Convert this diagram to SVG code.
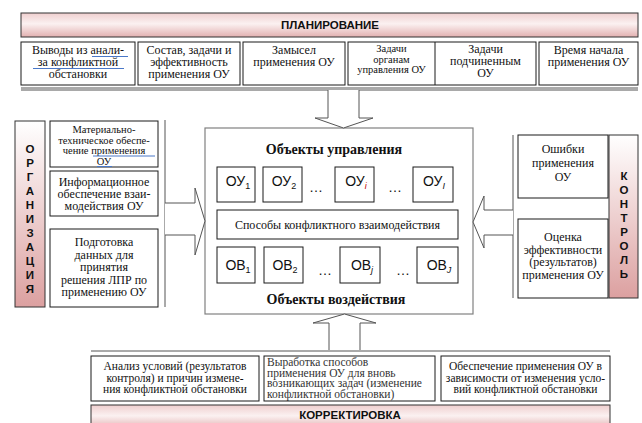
<svg xmlns="http://www.w3.org/2000/svg" width="642" height="423" viewBox="0 0 642 423">
<defs>
<linearGradient id="gh" x1="0" y1="0" x2="0" y2="1">
<stop offset="0" stop-color="#efcfcf"/>
<stop offset="0.45" stop-color="#fbf1f1"/>
<stop offset="1" stop-color="#e2b0b0"/>
</linearGradient>
<linearGradient id="gv" x1="0" y1="0" x2="0" y2="1">
<stop offset="0" stop-color="#ffffff"/>
<stop offset="1" stop-color="#dca0a0"/>
</linearGradient>
</defs>
<style>
.bx{fill:#fff;stroke:#1a1a1a;stroke-width:1}
.mb{fill:#fff;stroke:#808080;stroke-width:1.2}
.hd{stroke:#333;stroke-width:1}
.t{font-family:"Liberation Serif",serif;font-size:12px;fill:#111;text-anchor:middle}
.ls{font-family:"Liberation Serif",serif;font-size:11.5px;fill:#333;text-anchor:start}
.k{font-size:11.5px}
.s{font-size:10.5px}
.bt{font-family:"Liberation Serif",serif;font-size:14px;font-weight:bold;fill:#111;text-anchor:middle}
.h{font-family:"Liberation Sans",sans-serif;font-size:11.5px;font-weight:bold;fill:#111;text-anchor:middle}
.o{font-family:"Liberation Sans",sans-serif;font-size:14px;fill:#111;text-anchor:middle}
.sub{font-size:9px}
.ar{fill:#fff;stroke:#555;stroke-width:1}
.ln{fill:none;stroke:#555;stroke-width:1}
.ul{stroke:#4a78c8;stroke-width:1}
</style>

<g id="planirovanie">
<rect x="21" y="13" width="617" height="24" fill="url(#gh)" class="hd"/>
<text class="h" x="330" y="29">ПЛАНИРОВАНИЕ</text>
</g>

<g id="plan-vyvody">
<rect class="bx" x="21" y="42" width="114" height="43"/>
<text class="t" x="78"><tspan x="78" y="54">Выводы из анали-</tspan><tspan x="78" y="66">за  конфликтной</tspan><tspan x="78" y="78">обстановки</tspan></text>
<line class="ul" x1="92" y1="56.5" x2="128" y2="56.5"/>
<line class="ul" x1="33" y1="68.5" x2="124" y2="68.5"/>
</g>
<g id="plan-sostav">
<rect class="bx" x="138" y="42" width="102" height="43"/>
<text class="t" x="189"><tspan x="189" y="54">Состав, задачи и</tspan><tspan x="189" y="66">эффективность</tspan><tspan x="189" y="78">применения ОУ</tspan></text>
</g>
<g id="plan-zamysel">
<rect class="bx" x="243" y="42" width="102" height="43"/>
<text class="t" x="294"><tspan x="294" y="54">Замысел</tspan><tspan x="294" y="66">применения ОУ</tspan></text>
</g>
<g id="plan-zadachi">
<rect class="bx" x="348" y="42" width="188" height="43"/>
<line x1="435" y1="42" x2="435" y2="85" stroke="#1a1a1a"/>
<text class="t s" x="391.5"><tspan x="391.5" y="52">Задачи</tspan><tspan x="391.5" y="62.5">органам</tspan><tspan x="391.5" y="73">управления ОУ</tspan></text>
<text class="t" x="485.5"><tspan x="485.5" y="53">Задачи</tspan><tspan x="485.5" y="65">подчиненным</tspan><tspan x="485.5" y="77">ОУ</tspan></text>
</g>
<g id="plan-vremya">
<rect class="bx" x="539" y="42" width="99" height="43"/>
<text class="t" x="588.5"><tspan x="588.5" y="54">Время начала</tspan><tspan x="588.5" y="66">применения ОУ</tspan></text>
</g>

<g id="organizaciya">
<rect x="15" y="121" width="30" height="186" fill="url(#gv)" class="hd"/>
<text class="h" x="30"><tspan x="30" y="153">О</tspan><tspan x="30" y="167">Р</tspan><tspan x="30" y="181">Г</tspan><tspan x="30" y="195">А</tspan><tspan x="30" y="209">Н</tspan><tspan x="30" y="223">И</tspan><tspan x="30" y="237">З</tspan><tspan x="30" y="251">А</tspan><tspan x="30" y="265">Ц</tspan><tspan x="30" y="279">И</tspan><tspan x="30" y="293">Я</tspan></text>
</g>
<g id="org-material">
<rect class="bx" x="50" y="121" width="108" height="46"/>
<text class="t s" x="104"><tspan x="104" y="133">Материально-</tspan><tspan x="104" y="143.5">техническое обеспе-</tspan><tspan x="104" y="154">чение применения</tspan><tspan x="104" y="164.5">ОУ</tspan></text>
<line class="ul" x1="93" y1="156" x2="155" y2="156"/>
<line class="ul" x1="97" y1="166.5" x2="112" y2="166.5"/>
</g>
<g id="org-info">
<rect class="bx" x="50" y="171" width="108" height="45"/>
<text class="t" x="104"><tspan x="104" y="186">Информационное</tspan><tspan x="104" y="198">обеспечение взаи-</tspan><tspan x="104" y="210">модействия ОУ</tspan></text>
</g>
<g id="org-podgotovka">
<rect class="bx" x="50" y="229" width="108" height="78"/>
<text class="t" x="104"><tspan x="104" y="246">Подготовка</tspan><tspan x="104" y="258.5">данных для</tspan><tspan x="104" y="271">принятия</tspan><tspan x="104" y="283.5">решения ЛПР по</tspan><tspan x="104" y="296">применению ОУ</tspan></text>
</g>

<g id="main">
<rect class="mb" x="205" y="128" width="268" height="186"/>
<text class="bt" x="334" y="154">Объекты управления</text>
<text class="bt" x="336" y="304">Объекты воздействия</text>
</g>
<g id="ou1"><rect class="bx" x="217" y="167" width="38" height="35"/><text class="o" x="238" y="186">ОУ<tspan class="sub" dy="3">1</tspan></text></g>
<g id="ou2"><rect class="bx" x="263" y="167" width="39" height="35"/><text class="o" x="284" y="186">ОУ<tspan class="sub" dy="3">2</tspan></text></g>
<g id="ou-dots1"><text class="o" x="316" y="192">…</text></g>
<g id="oui"><rect class="bx" x="335" y="167" width="39" height="35"/><text class="o" x="356" y="186">ОУ<tspan class="sub" dy="3" font-style="italic" fill="#c00000">i</tspan></text></g>
<g id="ou-dots2"><text class="o" x="395" y="192">…</text></g>
<g id="oul"><rect class="bx" x="413" y="167" width="40" height="35"/><text class="o" x="434" y="186">ОУ<tspan class="sub" dy="3" font-style="italic">I</tspan></text></g>
<g id="sposoby"><rect class="bx" x="217" y="210" width="241" height="29"/><text class="t" font-size="12.5" x="337.5" y="229">Способы конфликтного взаимодействия</text></g>
<g id="ov1"><rect class="bx" x="217" y="247" width="38" height="36"/><text class="o" x="238" y="270">ОВ<tspan class="sub" dy="3">1</tspan></text></g>
<g id="ov2"><rect class="bx" x="264" y="247" width="39" height="36"/><text class="o" x="285" y="270">ОВ<tspan class="sub" dy="3">2</tspan></text></g>
<g id="ov-dots1"><text class="o" x="325" y="275">…</text></g>
<g id="ovj"><rect class="bx" x="340" y="247" width="40" height="36"/><text class="o" x="362" y="270">ОВ<tspan class="sub" dy="3" font-style="italic">j</tspan></text></g>
<g id="ov-dots2"><text class="o" x="403" y="275">…</text></g>
<g id="ovJ"><rect class="bx" x="417" y="247" width="41" height="36"/><text class="o" x="439" y="270">ОВ<tspan class="sub" dy="3" font-style="italic">J</tspan></text></g>

<g id="kontrol">
<rect x="609" y="135" width="29" height="163" fill="url(#gv)" class="hd"/>
<text class="h" x="624"><tspan x="624" y="180">К</tspan><tspan x="624" y="194">О</tspan><tspan x="624" y="208">Н</tspan><tspan x="624" y="222">Т</tspan><tspan x="624" y="236">Р</tspan><tspan x="624" y="250">О</tspan><tspan x="624" y="264">Л</tspan><tspan x="624" y="278">Ь</tspan></text>
</g>
<g id="kon-oshibki">
<rect class="bx" x="518" y="135" width="90" height="63"/>
<text class="t" x="563"><tspan x="563" y="153">Ошибки</tspan><tspan x="563" y="167">применения</tspan><tspan x="563" y="181">ОУ</tspan></text>
</g>
<g id="kon-ocenka">
<rect class="bx" x="518" y="219" width="90" height="79"/>
<text class="t" font-size="12.5" x="563"><tspan x="563" y="241">Оценка</tspan><tspan x="563" y="253.5">эффективности</tspan><tspan x="563" y="266">(результатов)</tspan><tspan x="563" y="278.5">применения ОУ</tspan></text>
</g>

<g id="kor-analiz">
<rect class="bx" x="91" y="356" width="168" height="45"/>
<text class="t k" x="175"><tspan x="175" y="370">Анализ условий (результатов</tspan><tspan x="175" y="381.5">контроля) и причин измене-</tspan><tspan x="175" y="393">ния конфликтной обстановки</tspan></text>
</g>
<g id="kor-vyrabotka">
<rect class="bx" x="264" y="356" width="171" height="45"/>
<text class="ls" x="267"><tspan x="267" y="366">Выработка способов</tspan><tspan x="267" y="376.5">применения ОУ для вновь</tspan><tspan x="267" y="387">возникающих задач (изменение</tspan><tspan x="267" y="397.5">конфликтной обстановки)</tspan></text>
</g>
<g id="kor-obespechenie">
<rect class="bx" x="441" y="356" width="169" height="45"/>
<text class="t k" x="525.5"><tspan x="525.5" y="370">Обеспечение применения ОУ в</tspan><tspan x="525.5" y="381.5">зависимости от изменения усло-</tspan><tspan x="525.5" y="393">вий конфликтной обстановки</tspan></text>
</g>
<g id="korrektirovka">
<rect x="91" y="405" width="519" height="24" fill="url(#gh)" class="hd"/>
<text class="h" x="350" y="419">КОРРЕКТИРОВКА</text>
</g>

<g id="connectors">
<line class="ln" x1="21" y1="88" x2="638" y2="88"/>
<line class="ln" x1="21" y1="90" x2="638" y2="90"/>
<path class="ar" d="M328,90 V118 H315 L343.5,128 L373,118 H359 V90"/>
<line class="ln" x1="165" y1="120" x2="165" y2="307"/>
<path class="ar" d="M165,203 H195 V188 L205,221 L195,255 V235 H165"/>
<line class="ln" x1="513" y1="135" x2="513" y2="298"/>
<path class="ar" d="M513,210 H484 V196 L473,222 L484,248 V235 H513"/>
<line class="ln" x1="91" y1="351" x2="610" y2="351" stroke-width="1.5"/>
<path class="ar" d="M329,350 V323 H313 L344.5,314 L376,323 H360 V350"/>
</g>
</svg>
